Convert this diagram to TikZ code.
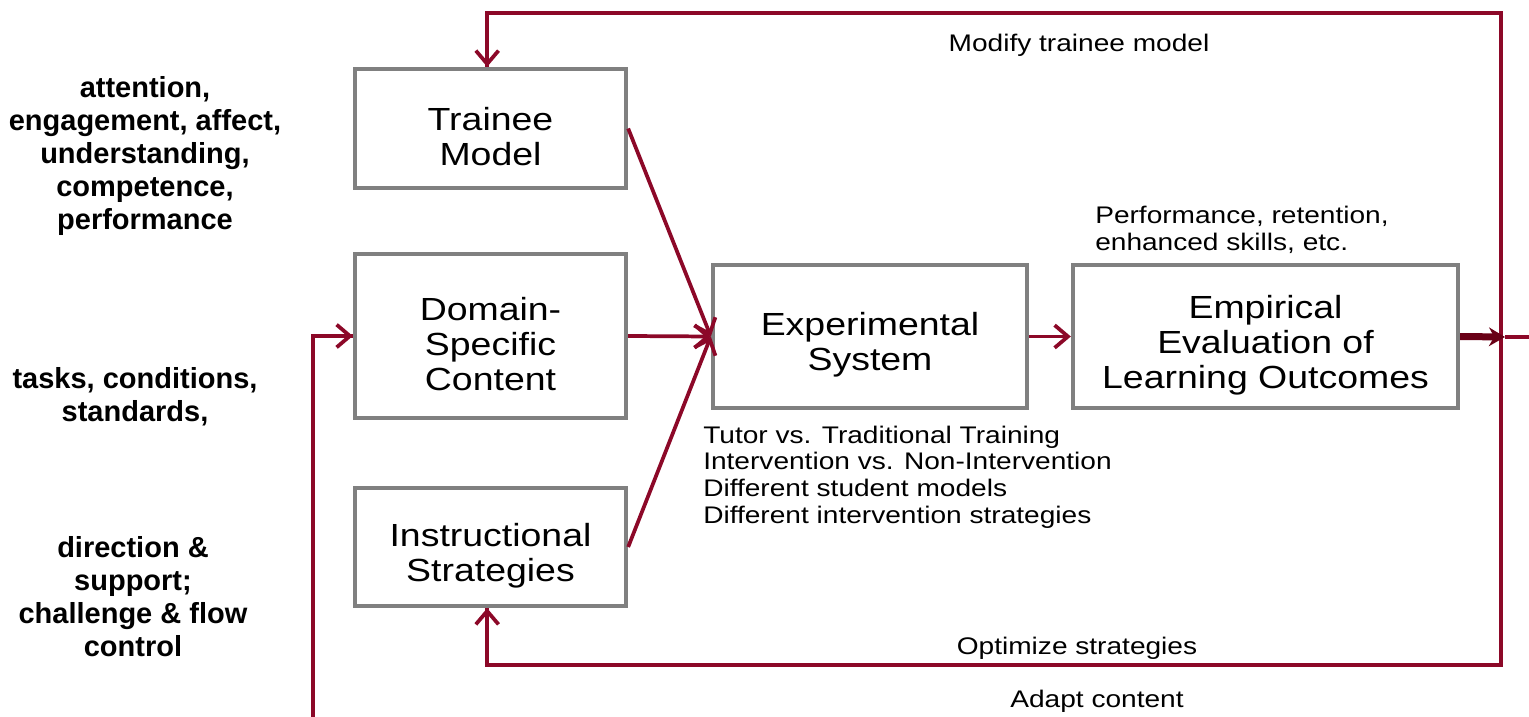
\documentclass[tikz,border=0pt]{standalone}
\usepackage{fontspec}
\setmainfont{Liberation Sans}
\newfontfamily\boxfont[FakeStretch=1.17]{Liberation Sans}
\usepackage{tikz}
\usetikzlibrary{calc,arrows.meta}
\definecolor{boxgray}{RGB}{128,128,128}
\definecolor{flowred}{RGB}{140,8,40}
\definecolor{outred}{RGB}{105,0,22}
% pushes box text a little below the middle
\newcommand{\boxtop}{\rule{0pt}{30pt}}
\tikzset{
  box/.style={draw=boxgray,line width=3.25pt,align=center,inner sep=0pt,
    font=\boxfont\fontsize{24}{26.3}\selectfont},
  flow/.style={flowred,line width=2.8pt,-{Straight Barb[length=10pt,width=17pt,line width=2.8pt]}},
  line/.style={flowred,line width=2.8pt},
  note/.style={font=\boxfont\fontsize{18}{19.9}\selectfont,inner sep=0pt},
  side/.style={font=\bfseries\fontsize{21.75}{24.75}\selectfont,align=center,inner sep=0pt}
}

\begin{document}
\begin{tikzpicture}[x=0.75pt,y=-0.75pt]
  \clip (0,0) rectangle (1529,717);
  %\draw[thin,gray!40] (0,0) grid[step=100] (1529,717);

  % the boxes
  \node[box,minimum width=203.25pt,minimum height=89.25pt] (trainee) at (490.5,128.5) {\boxtop Trainee\\Model};
  \node[box,minimum width=203.25pt,minimum height=123pt] (domain) at (490.5,336) {\boxtop Domain-\\Specific\\Content};
  \node[box,minimum width=203.25pt,minimum height=88.5pt] (instr) at (490.5,547) {\boxtop Instructional\\Strategies};
  \node[box,minimum width=235.5pt,minimum height=107.25pt] (exp) at (870,336.5) {\boxtop Experimental\\System};
  \node[box,minimum width=288.75pt,minimum height=107.25pt] (emp) at (1265.5,336.5) {\boxtop Empirical\\Evaluation of\\Learning Outcomes};

  % labels on the left
  \node[side] (lblmodel) at (145,156) {attention,\\engagement, affect,\\understanding,\\competence,\\performance};
  \node[side] (lblcontent) at (135,397) {tasks, conditions,\\standards,};
  \node[side] (lblstrat) at (133,597) {direction \&\\support;\\challenge \& flow\\control};

  % notes
  \node[note,align=left,anchor=west] (outcomes) at (1095,230) {Performance, retention,\\enhanced skills, etc.};
  \node[note,align=left,anchor=west] (conds) at (703,477) {Tutor vs. Traditional Training\\Intervention vs. Non-Intervention\\Different student models\\Different intervention strategies};
  \node[note] (modify) at (1079,45) {Modify trainee model};
  \node[note] (optimize) at (1077,648) {Optimize strategies};
  \node[note] (adapt) at (1097,701) {Adapt content};

  % inputs to the system
  \draw[flow] (trainee.east) -- (exp.west);
  \draw[flow] (domain.east) -- (exp.west);
  \draw[flow] (instr.east) -- (exp.west);
  \draw[flow] (exp.east) -- (emp.west);

  % result and feedback loops
  \coordinate (split) at (1501,337);
  \coordinate (tip) at (1505,337);
  \coordinate (top) at (1501,13);
  \coordinate (bottom) at (1501,665);
  \coordinate (corner) at (1540,337);
  \coordinate (low) at (313,719.5);
  \draw[line] (split) -- (top) -| ([xshift=-2.5]trainee.north) ;
  \draw[flow] ([xshift=-2.5]top -| trainee.north) -- ([xshift=-2.5]trainee.north);
  \draw[line] (split) -- (bottom) -| ([xshift=-2.5]instr.south);
  \draw[flow] ([xshift=-2.5]bottom -| instr.south) -- ([xshift=-2.5]instr.south);
  \draw[line] (tip) -- (corner) |- (low) |- (domain.west);
  \draw[flow] (313,336) -- (domain.west);
  \draw[outred,line width=5.25pt,-{Stealth[length=12pt,width=14pt]}] (emp.east) -- (tip);
\end{tikzpicture}
\end{document}
